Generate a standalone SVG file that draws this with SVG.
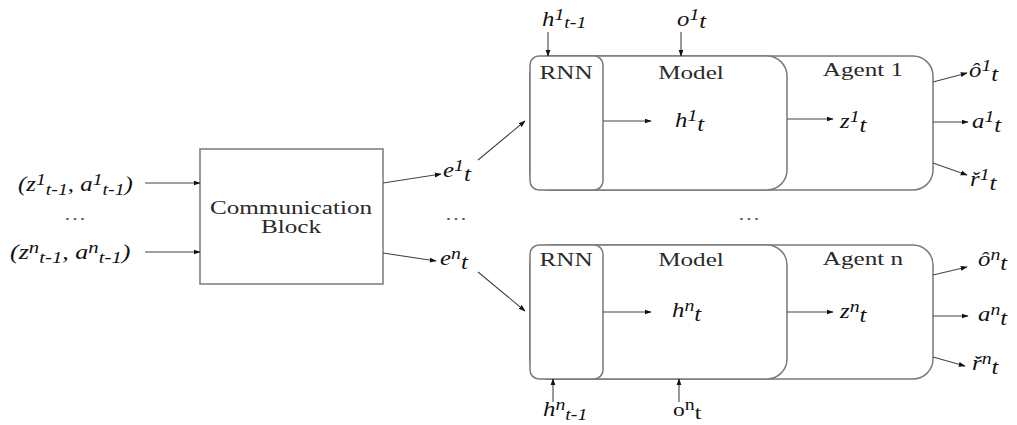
<svg xmlns="http://www.w3.org/2000/svg" width="1017" height="425" viewBox="0 0 1017 425">
<style>
.box{fill:#fff;stroke:#7a7a7a;stroke-width:1.5}
.ln{stroke:#444;stroke-width:1.1;fill:none;marker-end:url(#ah)}
.lbl{font-family:"Liberation Serif",serif;font-size:18px;fill:#2a2a2a}
.m{font-family:"Liberation Serif",serif;font-style:italic;font-size:20px;fill:#111}
.r{font-family:"Liberation Serif",serif;font-size:19px;fill:#111}
.s{font-size:16px}
.d{font-family:"Liberation Serif",serif;font-size:16px;fill:#555}
</style>
<defs>
<marker id="ah" viewBox="0 0 10 10" refX="9" refY="5" markerWidth="7" markerHeight="7" orient="auto" markerUnits="userSpaceOnUse">
<path d="M0,1.5 L10,5 L0,8.5 z" fill="#111"/>
</marker>
</defs>
<rect width="1017" height="425" fill="#fff"/>

<g id="comm">
<rect class="box" x="200" y="149" width="183" height="135"/>
<text class="lbl" transform="translate(291 214) scale(1.4 1)" text-anchor="middle">Communication</text>
<text class="lbl" transform="translate(291 233) scale(1.4 1)" text-anchor="middle">Block</text>
</g>

<g id="inputs">
<text class="m" transform="translate(18 191) scale(1.24 1)">(z<tspan class="s" dy="-6">1</tspan><tspan class="s" dy="10">t-1</tspan><tspan dy="-4">, a</tspan><tspan class="s" dy="-6">1</tspan><tspan class="s" dy="10">t-1</tspan><tspan dy="-4">)</tspan></text>
<text class="d" transform="translate(75 220) scale(1.4 1)" text-anchor="middle">…</text>
<text class="m" transform="translate(10 259) scale(1.3 1)">(z<tspan class="s" dy="-6">n</tspan><tspan class="s" dy="10">t-1</tspan><tspan dy="-4">, a</tspan><tspan class="s" dy="-6">n</tspan><tspan class="s" dy="10">t-1</tspan><tspan dy="-4">)</tspan></text>
</g>

<g id="e-labels">
<text class="m" transform="translate(443 177) scale(1.24 1)">e<tspan class="s" dy="-6">1</tspan><tspan dy="10">t</tspan></text>
<text class="d" transform="translate(456 220) scale(1.4 1)" text-anchor="middle">…</text>
<text class="m" transform="translate(440 265) scale(1.24 1)">e<tspan class="s" dy="-6">n</tspan><tspan dy="10">t</tspan></text>
<text class="d" transform="translate(749 220) scale(1.4 1)" text-anchor="middle">…</text>
</g>

<g id="agent1">
<rect class="box" x="530" y="56" width="403" height="134" rx="20"/>
<rect class="box" x="530" y="56" width="257" height="134" rx="20"/>
<rect class="box" x="530" y="56" width="73" height="134" rx="9"/>
<text class="lbl" transform="translate(566 79) scale(1.4 1)" text-anchor="middle">RNN</text>
<text class="lbl" transform="translate(691 79) scale(1.4 1)" text-anchor="middle">Model</text>
<text class="lbl" transform="translate(863 76) scale(1.4 1)" text-anchor="middle">Agent 1</text>
<text class="m" transform="translate(675 127) scale(1.24 1)">h<tspan class="s" dy="-6">1</tspan><tspan dy="10">t</tspan></text>
<text class="m" transform="translate(840 128) scale(1.24 1)">z<tspan class="s" dy="-6">1</tspan><tspan dy="10">t</tspan></text>
<text class="m" transform="translate(542 26) scale(1.24 1)">h<tspan class="s" dy="-6">1</tspan><tspan class="s" dy="8">t-1</tspan></text>
<text class="m" transform="translate(677 26) scale(1.24 1)">o<tspan class="s" dy="-6">1</tspan><tspan dy="8">t</tspan></text>
<text class="m" transform="translate(969 77) scale(1.24 1)">ô<tspan class="s" dy="-6">1</tspan><tspan dy="10">t</tspan></text>
<text class="m" transform="translate(972 128) scale(1.24 1)">a<tspan class="s" dy="-6">1</tspan><tspan dy="10">t</tspan></text>
<text class="m" transform="translate(970 186) scale(1.24 1)">ř<tspan class="s" dy="-6">1</tspan><tspan dy="10">t</tspan></text>
</g>

<g id="agentn">
<rect class="box" x="530" y="245" width="403" height="134" rx="20"/>
<rect class="box" x="530" y="245" width="257" height="134" rx="20"/>
<rect class="box" x="530" y="245" width="73" height="134" rx="9"/>
<text class="lbl" transform="translate(566 266) scale(1.4 1)" text-anchor="middle">RNN</text>
<text class="lbl" transform="translate(691 266) scale(1.4 1)" text-anchor="middle">Model</text>
<text class="lbl" transform="translate(863 265) scale(1.4 1)" text-anchor="middle">Agent n</text>
<text class="m" transform="translate(672 317) scale(1.24 1)">h<tspan class="s" dy="-6">n</tspan><tspan dy="10">t</tspan></text>
<text class="m" transform="translate(840 318) scale(1.24 1)">z<tspan class="s" dy="-6">n</tspan><tspan dy="10">t</tspan></text>
<text class="m" transform="translate(543 416) scale(1.24 1)">h<tspan class="s" dy="-6">n</tspan><tspan class="s" dy="10">t-1</tspan></text>
<text class="r" transform="translate(673 416) scale(1.24 1)">o<tspan class="s" dy="-6">n</tspan><tspan dy="9">t</tspan></text>
<text class="m" transform="translate(978 266) scale(1.24 1)">ô<tspan class="s" dy="-6">n</tspan><tspan dy="10">t</tspan></text>
<text class="m" transform="translate(978 321) scale(1.24 1)">a<tspan class="s" dy="-6">n</tspan><tspan dy="10">t</tspan></text>
<text class="m" transform="translate(972 370) scale(1.24 1)">ř<tspan class="s" dy="-6">n</tspan><tspan dy="10">t</tspan></text>
</g>

<g id="connectors">
<line class="ln" x1="145" y1="183" x2="200" y2="183"/>
<line class="ln" x1="145" y1="252" x2="200" y2="252"/>
<line class="ln" x1="383" y1="183" x2="441" y2="174"/>
<line class="ln" x1="383" y1="253" x2="436" y2="261"/>
<line class="ln" x1="478" y1="160" x2="525" y2="121"/>
<line class="ln" x1="478" y1="272" x2="525" y2="311"/>
<line class="ln" x1="548" y1="32" x2="548" y2="56"/>
<line class="ln" x1="681" y1="32" x2="681" y2="56"/>
<line class="ln" x1="603" y1="121" x2="651" y2="121"/>
<line class="ln" x1="787" y1="119" x2="833" y2="119"/>
<line class="ln" x1="933" y1="82" x2="967" y2="73"/>
<line class="ln" x1="933" y1="122" x2="968" y2="122"/>
<line class="ln" x1="933" y1="163" x2="967" y2="175"/>
<line class="ln" x1="553" y1="402" x2="553" y2="379"/>
<line class="ln" x1="679" y1="402" x2="679" y2="379"/>
<line class="ln" x1="603" y1="312" x2="651" y2="312"/>
<line class="ln" x1="787" y1="312" x2="833" y2="312"/>
<line class="ln" x1="933" y1="275" x2="967" y2="267"/>
<line class="ln" x1="933" y1="316" x2="968" y2="316"/>
<line class="ln" x1="933" y1="357" x2="965" y2="366"/>
</g>
</svg>
